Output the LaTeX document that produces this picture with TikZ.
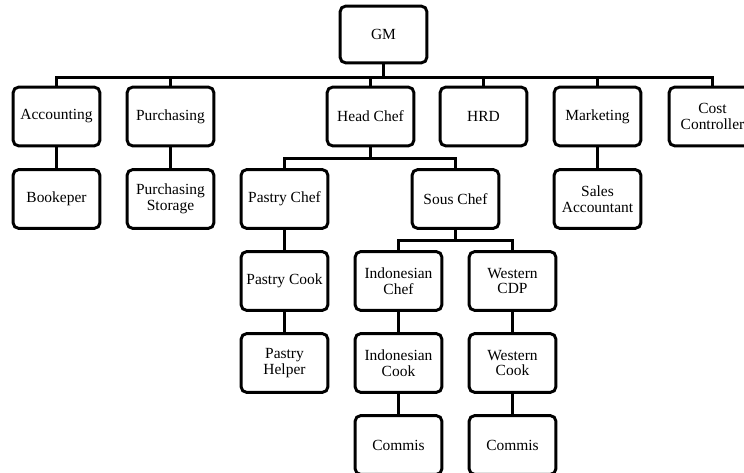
\documentclass[tikz,border=0pt]{standalone}
\usepackage{fontspec}
\setmainfont{Liberation Serif}

\begin{document}
\begin{tikzpicture}[x=0.75pt, y=-0.75pt,
                box/.style={draw, line width=2.2pt, rounded corners=4pt,
                        minimum width=65pt, minimum height=44pt, inner sep=1pt,
                        align=center, font=\fontsize{11.6}{11.8}\selectfont},
                wire/.style={draw, line width=2.2pt}]
                \useasboundingbox (0,0) rectangle (744,473);

                % top
                \node[box, minimum height=42.5pt] (gm) at (383.5,34.5) {GM};

                % first row
                \node[box] (acc)  at (56.5,116.5)  {Accounting};
                \node[box] (pur)  at (170.5,116.5) {Purchasing};
                \node[box] (head) at (370.5,116.5) {Head Chef};
                \node[box] (hrd)  at (483.5,116.5) {HRD};
                \node[box] (mkt)  at (597.5,116.5) {Marketing};
                \node[box] (cost) at (712.5,116.5) {Cost\\Controller};

                % second row
                \node[box] (book)  at (56.5,199)  {Bookeper};
                \node[box] (store) at (170.5,199) {Purchasing\\Storage};
                \node[box] (pchef) at (284.5,199) {Pastry Chef};
                \node[box] (sous)  at (455.5,199) {Sous Chef};
                \node[box] (sales) at (597.5,199) {Sales\\Accountant};

                % kitchen
                \node[box] (pcook) at (284.5,281) {Pastry Cook};
                \node[box] (ichef) at (398.5,281) {Indonesian\\Chef};
                \node[box] (wcdp)  at (512.5,281) {Western\\CDP};

                \node[box] (phelp) at (284.5,363) {Pastry\\Helper};
                \node[box] (icook) at (398.5,363) {Indonesian\\Cook};
                \node[box] (wcook) at (512.5,363) {Western\\Cook};

                \node[box] (icom) at (398.5,445) {Commis};
                \node[box] (wcom) at (512.5,445) {Commis};

                % lines
                \foreach \n in {acc,pur,head,hrd,mkt,cost}
                        \path[wire] (gm.south) -- ++(0,13) -| (\n.north);
                \foreach \n in {pchef,sous}
                        \path[wire] (head.south) -- ++(0,11) -| (\n.north);
                \foreach \n in {ichef,wcdp}
                        \path[wire] (sous.south) -- ++(0,11) -| (\n.north);

                \path[wire] (acc) -- (book);
                \path[wire] (pur) -- (store);
                \path[wire] (mkt) -- (sales);
                \path[wire] (pchef) -- (pcook);
                \path[wire] (pcook) -- (phelp);
                \path[wire] (ichef) -- (icook);
                \path[wire] (icook) -- (icom);
                \path[wire] (wcdp) -- (wcook);
                \path[wire] (wcook) -- (wcom);

                \end{tikzpicture}
\end{document}
